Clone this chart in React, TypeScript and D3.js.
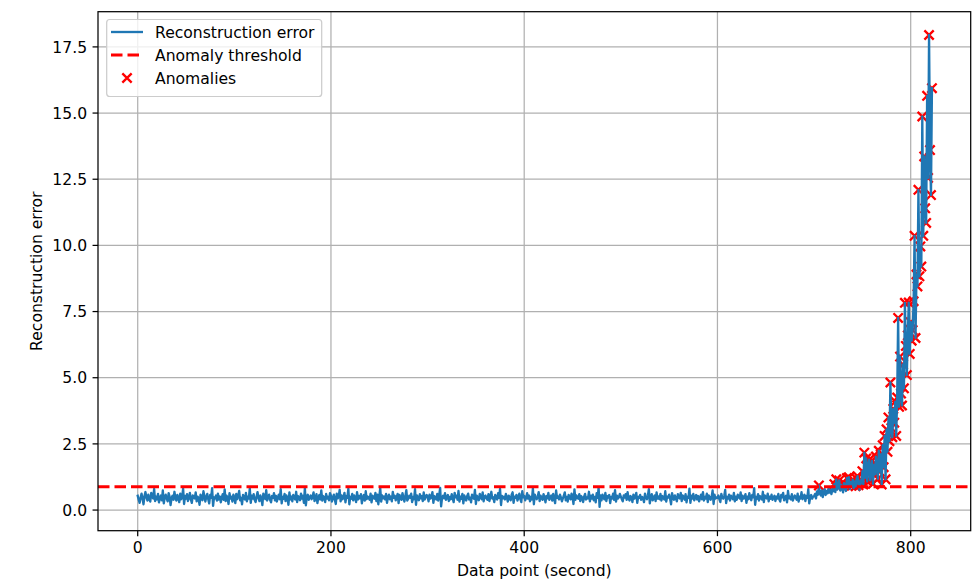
import React from 'react';
import * as d3 from 'd3';

// Reconstruction error, data points 0..699 (normal phase)
const normalErrors: number[] = [
  0.54,0.39,0.27,0.47,0.62,0.43,0.22,0.53,0.68,0.48,0.36,0.58,0.41,0.32,0.65,0.50,0.44,0.80,0.34,0.51,
  0.40,0.61,0.29,0.46,0.55,0.37,0.74,0.25,0.48,0.58,0.43,0.33,0.64,0.51,0.19,0.44,0.54,0.39,0.69,0.47,
  0.36,0.57,0.46,0.30,0.62,0.41,0.50,0.81,0.23,0.53,0.43,0.60,0.34,0.47,0.65,0.40,0.27,0.55,0.48,0.44,
  0.67,0.33,0.51,0.43,0.20,0.58,0.47,0.37,0.71,0.54,0.32,0.50,0.61,0.41,0.25,0.57,0.46,0.83,0.16,0.48,
  0.44,0.55,0.36,0.62,0.40,0.51,0.29,0.47,0.60,0.39,0.78,0.34,0.54,0.44,0.23,0.64,0.43,0.50,0.32,0.58,
  0.48,0.26,0.61,0.41,0.53,0.72,0.37,0.46,0.22,0.57,0.47,0.40,0.65,0.33,0.51,0.44,0.82,0.27,0.54,0.43,
  0.60,0.39,0.30,0.50,0.68,0.46,0.34,0.55,0.43,0.19,0.62,0.51,0.41,0.75,0.36,0.48,0.58,0.39,0.29,0.53,
  0.46,0.64,0.37,0.54,0.32,0.47,0.58,0.41,0.79,0.25,0.50,0.43,0.61,0.34,0.55,0.44,0.20,0.67,0.40,0.51,
  0.33,0.57,0.48,0.40,0.69,0.30,0.53,0.46,0.37,0.62,0.43,0.54,0.27,0.84,0.18,0.50,0.58,0.39,0.47,0.55,
  0.41,0.51,0.67,0.34,0.44,0.60,0.26,0.48,0.57,0.40,0.74,0.36,0.53,0.47,0.30,0.61,0.43,0.50,0.37,0.64,
  0.54,0.32,0.47,0.58,0.39,0.23,0.62,0.44,0.51,0.76,0.33,0.55,0.41,0.48,0.65,0.29,0.53,0.46,0.81,0.22,
  0.50,0.43,0.61,0.37,0.55,0.47,0.30,0.68,0.40,0.53,0.44,0.60,0.25,0.48,0.57,0.36,0.71,0.41,0.51,0.46,
  0.39,0.62,0.29,0.54,0.47,0.43,0.65,0.34,0.58,0.22,0.50,0.83,0.32,0.55,0.44,0.51,0.40,0.61,0.27,0.48,
  0.58,0.41,0.51,0.33,0.69,0.46,0.54,0.37,0.48,0.61,0.26,0.57,0.44,0.39,0.64,0.47,0.32,0.53,0.75,0.36,
  0.43,0.54,0.46,0.62,0.30,0.50,0.41,0.79,0.20,0.55,0.47,0.37,0.60,0.44,0.53,0.34,0.67,0.40,0.48,0.57,
  0.51,0.33,0.58,0.43,0.48,0.68,0.27,0.53,0.46,0.40,0.61,0.36,0.55,0.84,0.14,0.47,0.54,0.44,0.64,0.39,
  0.47,0.57,0.34,0.50,0.41,0.60,0.44,0.30,0.65,0.48,0.54,0.39,0.72,0.32,0.51,0.43,0.61,0.25,0.55,0.46,
  0.36,0.53,0.62,0.40,0.47,0.29,0.58,0.50,0.43,0.76,0.23,0.54,0.46,0.37,0.61,0.48,0.41,0.67,0.33,0.51,
  0.55,0.44,0.39,0.60,0.34,0.51,0.69,0.43,0.48,0.30,0.57,0.47,0.40,0.64,0.46,0.80,0.19,0.53,0.44,0.50,
  0.40,0.61,0.48,0.32,0.54,0.44,0.37,0.58,0.67,0.27,0.51,0.46,0.57,0.36,0.47,0.62,0.41,0.30,0.71,0.48,
  0.53,0.37,0.46,0.64,0.43,0.55,0.33,0.50,0.40,0.82,0.22,0.58,0.47,0.41,0.51,0.68,0.34,0.54,0.44,0.39,
  0.60,0.48,0.29,0.53,0.44,0.65,0.39,0.47,0.55,0.36,0.61,0.43,0.26,0.74,0.46,0.51,0.40,0.58,0.48,0.33,
  0.44,0.54,0.67,0.37,0.50,0.32,0.57,0.46,0.41,0.62,0.48,0.23,0.78,0.39,0.55,0.47,0.43,0.60,0.34,0.53,
  0.47,0.30,0.51,0.61,0.40,0.48,0.44,0.69,0.33,0.54,0.43,0.58,0.37,0.50,0.29,0.64,0.46,0.85,0.12,0.55,
  0.37,0.58,0.46,0.41,0.65,0.34,0.53,0.47,0.57,0.26,0.50,0.44,0.62,0.39,0.75,0.32,0.54,0.43,0.48,0.61,
  0.51,0.41,0.33,0.55,0.47,0.60,0.39,0.68,0.44,0.36,0.53,0.48,0.30,0.58,0.43,0.51,0.65,0.27,0.50,0.46,
  0.57,0.39,0.50,0.44,0.30,0.62,0.47,0.41,0.54,0.79,0.25,0.48,0.60,0.37,0.46,0.55,0.34,0.67,0.43,0.51,
  0.41,0.61,0.36,0.53,0.46,0.40,0.71,0.32,0.51,0.47,0.58,0.43,0.22,0.64,0.48,0.39,0.55,0.44,0.33,0.60,
  0.48,0.44,0.65,0.34,0.55,0.50,0.39,0.60,0.29,0.51,0.46,0.81,0.27,0.54,0.43,0.61,0.37,0.47,0.57,0.40,
  0.53,0.33,0.46,0.58,0.41,0.68,0.36,0.50,0.44,0.62,0.30,0.55,0.47,0.39,0.51,0.74,0.23,0.58,0.43,0.48,
  0.46,0.55,0.40,0.30,0.61,0.48,0.43,0.53,0.76,0.26,0.50,0.44,0.58,0.36,0.54,0.47,0.41,0.65,0.33,0.51,
  0.39,0.58,0.50,0.44,0.67,0.34,0.54,0.43,0.47,0.60,0.27,0.51,0.41,0.64,0.46,0.37,0.57,0.48,0.83,0.20,
  0.50,0.43,0.60,0.36,0.53,0.46,0.40,0.69,0.30,0.55,0.48,0.44,0.62,0.33,0.51,0.43,0.58,0.39,0.47,0.54,
  0.34,0.51,0.44,0.61,0.41,0.32,0.57,0.48,0.65,0.37,0.47,0.54,0.29,0.72,0.44,0.50,0.40,0.60,0.36,0.46,
  0.55,0.47,0.39,0.62,0.32,0.51,0.44,0.68,0.41,0.50,0.58,0.34,0.53,0.46,0.79,0.25,0.48,0.57,0.43,0.51,
];

// Reconstruction error, data points 700..822 (degradation phase)
const degradationErrors: number[] = [
  0.52,0.61,0.44,0.70,0.58,0.93,0.62,0.55,0.74,0.49,
  0.68,0.79,0.57,0.72,0.63,0.84,0.66,0.76,0.60,0.82,
  0.71,0.98,0.68,1.16,0.77,0.86,1.12,0.74,0.95,0.81,
  0.67,1.02,0.85,0.72,1.21,0.87,1.24,0.79,1.05,0.92,
  1.15,0.83,1.08,0.90,1.18,1.28,0.94,0.76,1.12,1.01,
  1.47,0.97,2.17,1.22,1.95,1.08,1.63,1.90,1.12,1.52,
  1.86,0.99,1.71,1.35,2.02,1.70,1.18,2.24,1.45,2.10,
  0.97,2.45,1.62,2.80,1.16,3.05,2.20,3.50,2.60,4.82,
  3.10,2.75,3.82,3.30,4.10,2.80,4.25,7.26,3.90,5.80,
  4.40,3.95,5.50,4.60,7.83,6.20,5.10,6.60,7.84,5.90,
  7.10,6.40,6.80,7.89,10.36,6.50,8.90,8.45,12.10,8.83,
  9.96,9.20,14.87,10.36,13.36,11.40,10.85,15.65,12.55,17.95,
  13.60,11.90,15.94,
];

const anomalyThreshold = 0.88;
const xTicks = [0, 200, 400, 600, 800];
const yTicks = [0, 2.5, 5, 7.5, 10, 12.5, 15, 17.5];
const legendLabels = ['Reconstruction error', 'Anomaly threshold', 'Anomalies'];

const FONT = '"DejaVu Sans", sans-serif';
const BLUE = '#1f77b4';
const RED = '#ff0000';

export default function App() {
  const W = 979, H = 583;
  const L = 98, R = 970.7, T = 11.7, B = 530.7;
  const values = normalErrors.concat(degradationErrors);
  const data = values.map((v, i) => ({ i, v }));
  const x = d3.scaleLinear().domain([-41.1, 862.1]).range([L, R]);
  const y = d3.scaleLinear().domain([-0.78, 18.83]).range([B, T]);
  const line = d3.line<{ i: number; v: number }>().x(d => x(d.i)).y(d => y(d.v));
  const anomalies = data.filter(d => d.v > anomalyThreshold);
  const ms = 4.67;
  const xMark = `M${-ms},${-ms}L${ms},${ms}M${-ms},${ms}L${ms},${-ms}`;
  const tickLen = 5.45;
  const pad = 5.45;
  const fs = 15.6;
  const lwLine = 2.33, lwThr = 3.11, lwGrid = 1.24;
  const dash = '11.5,5';

  const legX = 106.7, legY = 19.5, legW = 215, legH = 77;
  const rows = [32, 55, 78];

  return (
    <svg width={W} height={H} style={{ position: 'absolute', left: 0, top: 0, background: '#fff' }}
      fontFamily={FONT}>
      <defs>
        <clipPath id="plotArea">
          <rect x={L} y={T} width={R - L} height={B - T} />
        </clipPath>
      </defs>
      <rect x={0} y={0} width={W} height={H} fill="#fff" />
      {/* grid */}
      {xTicks.map(t => (
        <line key={'gx' + t} x1={x(t)} x2={x(t)} y1={T} y2={B} stroke="#b0b0b0" strokeWidth={lwGrid} />
      ))}
      {yTicks.map(t => (
        <line key={'gy' + t} x1={L} x2={R} y1={y(t)} y2={y(t)} stroke="#b0b0b0" strokeWidth={lwGrid} />
      ))}
      <g clipPath="url(#plotArea)">
        {anomalies.map(d => (
          <path key={'a' + d.i} d={xMark} transform={`translate(${x(d.i)},${y(d.v)})`}
            stroke={RED} strokeWidth={lwLine} fill="none" />
        ))}
        <path d={line(data) || ''} fill="none" stroke={BLUE} strokeWidth={lwLine}
          strokeLinejoin="round" strokeLinecap="square" />
        <line x1={L} x2={R} y1={y(anomalyThreshold)} y2={y(anomalyThreshold)}
          stroke={RED} strokeWidth={lwThr} strokeDasharray={dash} />
      </g>
      {/* spines */}
      <rect x={L} y={T} width={R - L} height={B - T} fill="none" stroke="#000" strokeWidth={1.24} />
      {/* x ticks */}
      {xTicks.map(t => (
        <g key={'xt' + t}>
          <line x1={x(t)} x2={x(t)} y1={B} y2={B + tickLen} stroke="#000" strokeWidth={1.24} />
          <text x={x(t)} y={B + tickLen + pad + 11.6} textAnchor="middle" fontSize={fs} fill="#000">{t}</text>
        </g>
      ))}
      {/* y ticks */}
      {yTicks.map(t => (
        <g key={'yt' + t}>
          <line x1={L - tickLen} x2={L} y1={y(t)} y2={y(t)} stroke="#000" strokeWidth={1.24} />
          <text x={L - tickLen - pad} y={y(t) + 5.7} textAnchor="end" fontSize={fs} fill="#000">{t.toFixed(1)}</text>
        </g>
      ))}
      <text x={(L + R) / 2} y={576} textAnchor="middle" fontSize={fs} fill="#000">Data point (second)</text>
      <text transform={`translate(42,${(T + B) / 2}) rotate(-90)`} textAnchor="middle" fontSize={fs} fill="#000">
        Reconstruction error
      </text>
      {/* legend */}
      <rect x={legX} y={legY} width={legW} height={legH} rx={3} ry={3}
        fill="#fff" fillOpacity={0.8} stroke="#cccccc" strokeWidth={1.24} />
      <line x1={111} x2={143} y1={rows[0]} y2={rows[0]} stroke={BLUE} strokeWidth={lwLine} />
      <line x1={111} x2={143} y1={rows[1]} y2={rows[1]} stroke={RED} strokeWidth={lwThr} strokeDasharray={dash} />
      <path d={xMark} transform={`translate(127,${rows[2]})`} stroke={RED} strokeWidth={lwLine} fill="none" />
      {legendLabels.map((lab, k) => (
        <text key={lab} x={155} y={rows[k] + 5.7} fontSize={fs} fill="#000">{lab}</text>
      ))}
    </svg>
  );
}
